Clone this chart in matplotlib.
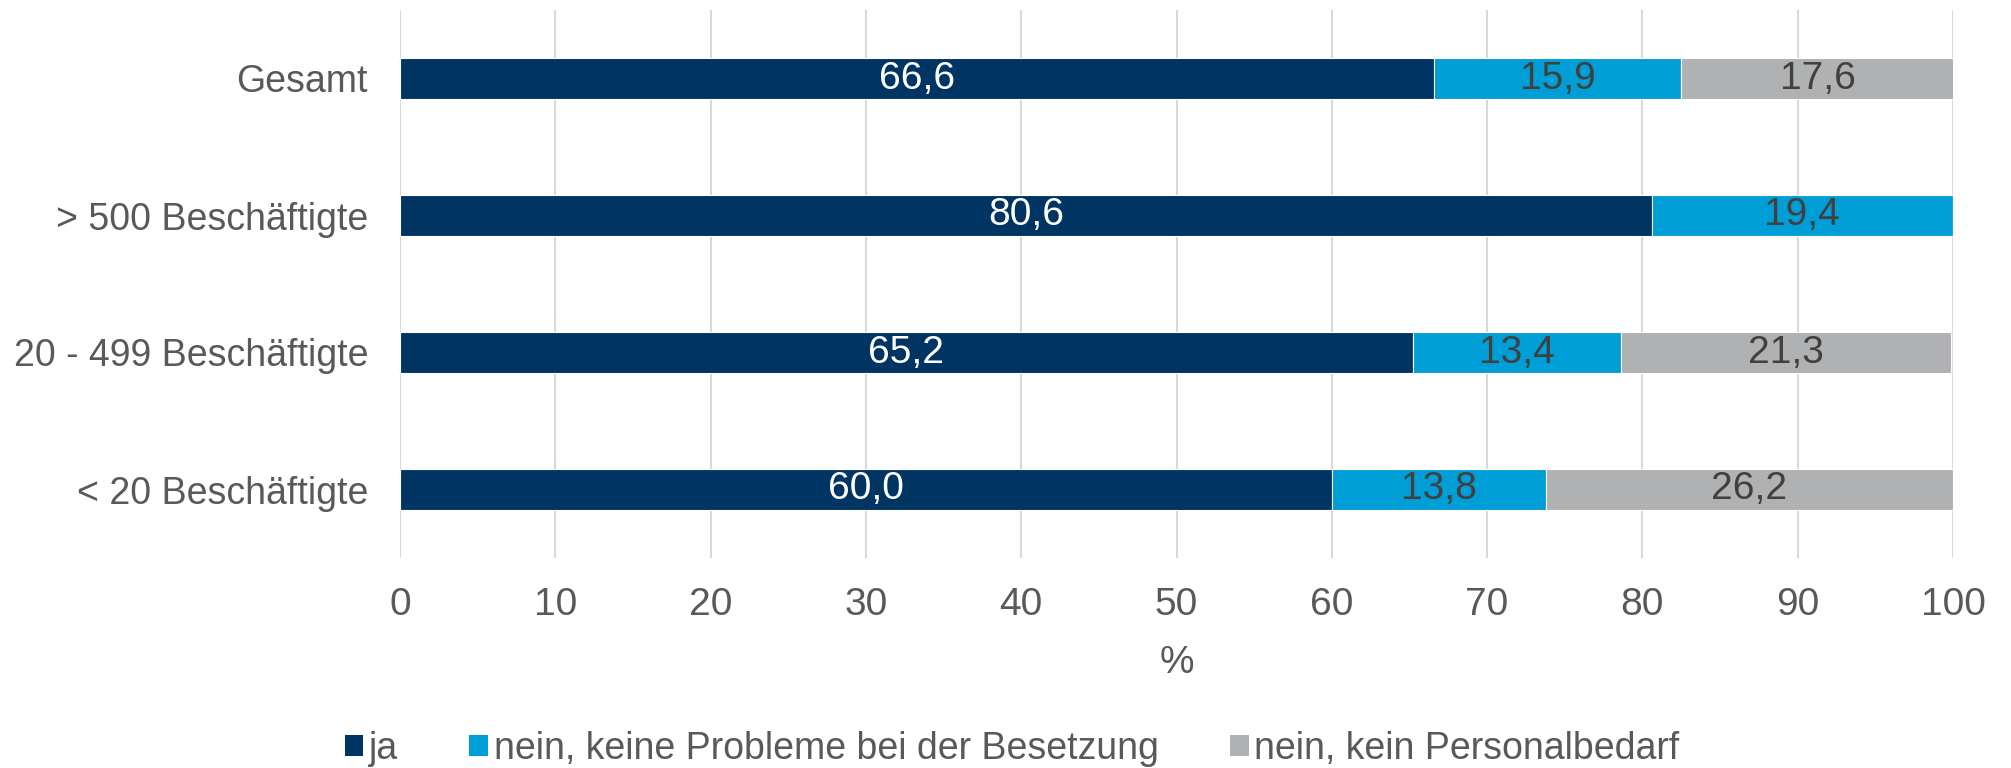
import numpy as np
import matplotlib
matplotlib.use("Agg")
import matplotlib.pyplot as plt
from matplotlib.patches import Patch

plt.rcParams["font.family"] = ["Liberation Sans", "DejaVu Sans"]

categories = ["Gesamt", "> 500 Beschäftigte", "20 - 499 Beschäftigte", "< 20 Beschäftigte"]
series_names = ["ja", "nein, keine Probleme bei der Besetzung", "nein, kein Personalbedarf"]
ja = [66.6, 80.6, 65.2, 60.0]
nein_besetzung = [15.9, 19.4, 13.4, 13.8]
nein_bedarf = [17.6, 0.0, 21.3, 26.2]
x_ticks = [0, 10, 20, 30, 40, 50, 60, 70, 80, 90, 100]

COLORS = ["#003462", "#009ED6", "#B0B1B3"]
LABEL_COLORS = ["white", "#404040", "#404040"]
TICK = "#595959"
GRID = "#D9D9D9"
FS = 28       # numbers
FS_TXT = 27   # category labels and legend


def main():
    fig = plt.figure(figsize=(20.11, 7.68), dpi=100)
    ax = fig.add_axes([400 / 2011, 1 - 558 / 768, 1553 / 2011, 548 / 768])

    y = np.arange(len(categories))
    left = np.zeros(len(categories))
    for vals, col, lcol in zip([ja, nein_besetzung, nein_bedarf], COLORS, LABEL_COLORS):
        vals = np.array(vals)
        ax.barh(y, vals, left=left, height=0.30, color=col,
                edgecolor="white", linewidth=0.8, zorder=3)
        for yi, l, v in zip(y, left, vals):
            if v > 0:
                ax.text(l + v / 2, yi, f"{v:.1f}".replace(".", ","),
                        ha="center", va="center", color=lcol, fontsize=FS, zorder=4)
        left += vals

    ax.set_xlim(0, 100)
    ax.set_ylim(len(categories) - 0.5, -0.5)
    ax.set_yticks(y)
    ax.set_yticklabels(categories)
    ax.set_xticks(x_ticks)
    ax.tick_params(axis="both", length=0, labelcolor=TICK)
    ax.tick_params(axis="y", pad=23, labelsize=FS_TXT)
    ax.tick_params(axis="x", pad=21, labelsize=FS)
    ax.grid(axis="x", color=GRID, lw=1.5, zorder=0)
    for s in ax.spines.values():
        s.set_visible(False)
    ax.set_xlabel("%", fontsize=FS, color=TICK, labelpad=16)

    handles = [Patch(facecolor=c, edgecolor="none") for c in COLORS]
    fig.legend(handles, series_names, loc="center", bbox_to_anchor=(1012 / 2011, 1 - 749 / 768),
               ncol=3, frameon=False, fontsize=FS_TXT, labelcolor=TICK,
               handlelength=0.5, handleheight=0.5, handletextpad=0.15,
               columnspacing=1.9, borderaxespad=0, borderpad=0)

    fig.savefig("out.png", dpi=100)


if __name__ == "__main__":
    main()
